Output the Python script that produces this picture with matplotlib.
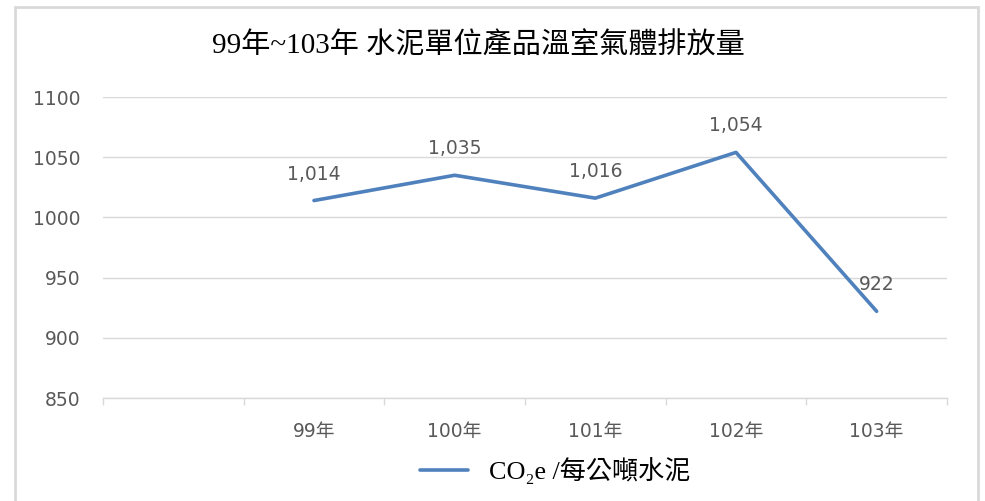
import matplotlib
matplotlib.use('Agg')
import matplotlib.pyplot as plt
from matplotlib.patches import Rectangle
from matplotlib.ticker import FixedLocator

_DPI = 100

# data
categories = ['', '99年', '100年', '101年', '102年', '103年']
years = ['99年', '100年', '101年', '102年', '103年']
emissions = [1014, 1035, 1016, 1054, 922]
y_ticks = [850, 900, 950, 1000, 1050, 1100]

TITLE = '99年~103年 水泥單位產品溫室氣體排放量'
SERIES = 'CO₂e /每公噸水泥'

LINE_COLOR = '#4F81BD'
GRID_COLOR = '#D9D9D9'
TEXT_GRAY = '#595959'
SERIF_CJK = ['Liberation Serif', 'Noto Sans CJK TC', 'DejaVu Sans']
SANS_CJK = ['DejaVu Sans', 'Noto Sans CJK TC']

plt.rcParams['font.family'] = SANS_CJK

fig = plt.figure(figsize=(985 / _DPI, 501 / _DPI), dpi=_DPI)
ax = fig.add_axes([103 / 985, 1 - 398 / 501, 844 / 985, 301 / 501])

x = [categories.index(c) for c in years]
line, = ax.plot(x, emissions, color=LINE_COLOR, lw=2.6, solid_capstyle='round',
                label=SERIES)

for xi, v in zip(x, emissions):
  ax.annotate('{:,}'.format(v), (xi, v), xytext=(0, 19), textcoords='offset points',
              ha='center', va='center', fontsize=13.5, color=TEXT_GRAY)

ax.set_xlim(-0.5, len(categories) - 0.5)
ax.set_ylim(y_ticks[0], y_ticks[-1])
ax.set_xticks(range(len(categories)))
ax.set_xticklabels(categories)
ax.xaxis.set_minor_locator(FixedLocator([i - 0.5 for i in range(len(categories) + 1)]))
ax.tick_params(axis='x', which='major', length=0, pad=17, labelsize=13.5, labelcolor=TEXT_GRAY)
ax.tick_params(axis='x', which='minor', length=5, width=1, color=GRID_COLOR)
ax.set_yticks(y_ticks)
ax.tick_params(axis='y', length=0, pad=16, labelsize=13.5, labelcolor=TEXT_GRAY)

ax.grid(axis='y', color=GRID_COLOR, lw=1)
ax.set_axisbelow(True)
for side in ['top', 'right', 'left']:
  ax.spines[side].set_visible(False)
ax.spines['bottom'].set_color(GRID_COLOR)
ax.spines['bottom'].set_linewidth(1)

fig.text(0.486, 1 - 46 / 501, TITLE, ha='center', va='center', fontsize=21,
         family=SERIF_CJK, color='black')

leg = fig.legend(handles=[line], loc='center', bbox_to_anchor=(0.5635, 1 - 471 / 501),
                 frameon=False, handlelength=1.85, handletextpad=0.77,
                 prop={'family': SERIF_CJK, 'size': 18.8})

fig.patches.append(Rectangle((15 / 985, -0.1), 963 / 985, 1.1 - 7 / 501,
                             transform=fig.transFigure, fill=False,
                             edgecolor=GRID_COLOR, lw=2))

fig.savefig('out.png', dpi=_DPI)
